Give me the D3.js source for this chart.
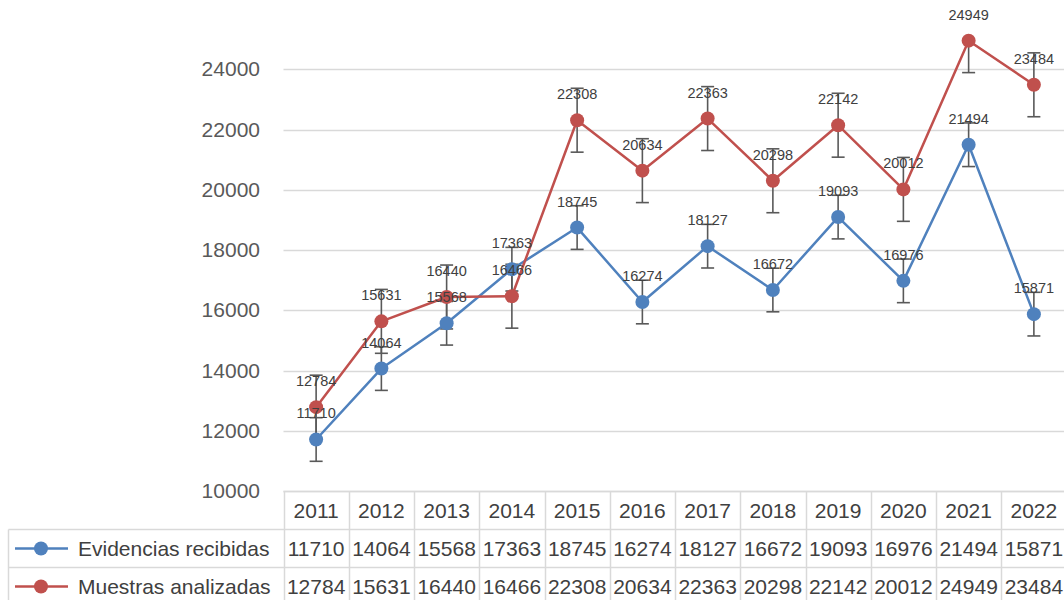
<!DOCTYPE html>
<html>
<head>
<meta charset="utf-8">
<script src="https://cdn.jsdelivr.net/npm/d3@7"></script>
<style>
  body { margin: 0; background: #fff; }
  text { font-family: "Liberation Sans", Arial, sans-serif; }
</style>
</head>
<body>
<div id="chart"></div>
<script>
// data
var years = ["2011", "2012", "2013", "2014", "2015", "2016", "2017", "2018", "2019", "2020", "2021", "2022"];
var evidencias = [11710, 14064, 15568, 17363, 18745, 16274, 18127, 16672, 19093, 16976, 21494, 15871];
var muestras = [12784, 15631, 16440, 16466, 22308, 20634, 22363, 20298, 22142, 20012, 24949, 23484];
var yTicks = [10000, 12000, 14000, 16000, 18000, 20000, 22000, 24000];

var series = [
    {name: "Evidencias recibidas", values: evidencias, color: "#4f81bd"},
    {name: "Muestras analizadas", values: muestras, color: "#c0504d"}
];

var width = 1064, height = 600;
var yMin = 10000, yMax = 26000;

var svg = d3.select("#chart").append("svg")
    .attr("width", width)
    .attr("height", height);

var x = d3.scaleBand()
    .domain(years)
    .range([283.5, 283.5 + 65.25 * years.length]);

var y = d3.scaleLinear()
    .domain([yMin, yMax])
    .range([491, 9]);

// gridlines
svg.append("g")
    .selectAll("line")
    .data(yTicks)
    .join("line")
    .attr("x1", 283.5)
    .attr("x2", width)
    .attr("y1", d => Math.round(y(d)) + 0.5)
    .attr("y2", d => Math.round(y(d)) + 0.5)
    .attr("stroke", "#d9d9d9")
    .attr("stroke-width", 1.5);

// y tick labels
svg.append("g")
    .selectAll("text")
    .data(yTicks)
    .join("text")
    .attr("x", 260)
    .attr("y", d => y(d) + 7)
    .attr("text-anchor", "end")
    .attr("fill", "#595959")
    .style("font-size", "21px")
    .text(d => d);

// standard error of each series (same bar for every point, like Excel)
series.forEach(function(s) {
    s.err = d3.deviation(s.values) / Math.sqrt(s.values.length);
});

var cx = d => x(d) + x.bandwidth() / 2;

// error bars
series.forEach(function(s) {
    var g = svg.append("g")
        .attr("stroke", "#595959")
        .attr("stroke-width", 1.6);
    s.values.forEach(function(v, i) {
        var px = cx(years[i]);
        var hi = v + s.err, lo = v - s.err;
        var segs = [];
        if (hi <= yMax) segs.push(hi);
        if (lo >= yMin) segs.push(lo);
        segs.forEach(function(e) {
            g.append("line")
                .attr("x1", px).attr("x2", px)
                .attr("y1", y(v)).attr("y2", y(e));
            g.append("line")
                .attr("x1", px - 6.5).attr("x2", px + 6.5)
                .attr("y1", y(e)).attr("y2", y(e));
        });
    });
});

var line = d3.line()
    .x((d, i) => cx(years[i]))
    .y(d => y(d));

// lines and markers
series.forEach(function(s) {
    svg.append("path")
        .datum(s.values)
        .attr("d", line)
        .attr("fill", "none")
        .attr("stroke", s.color)
        .attr("stroke-width", 2.5)
        .attr("stroke-linejoin", "round");

    svg.append("g")
        .selectAll("circle")
        .data(s.values)
        .join("circle")
        .attr("cx", (d, i) => cx(years[i]))
        .attr("cy", d => y(d))
        .attr("r", 7)
        .attr("fill", s.color);
});

// data labels
series.forEach(function(s) {
    svg.append("g")
        .selectAll("text")
        .data(s.values)
        .join("text")
        .attr("x", (d, i) => cx(years[i]))
        .attr("y", d => y(d) - 21)
        .attr("text-anchor", "middle")
        .attr("fill", "#404040")
        .style("font-size", "14.5px")
        .text(d => d);
});

// data table
var rowTop = [491.5, 529.5, 567.5, 605.5];
var tableLeft = 8.5;
var grid = svg.append("g")
    .attr("stroke", "#d9d9d9")
    .attr("stroke-width", 1.5);

// header top border + row borders
grid.append("line")
    .attr("x1", x.range()[0]).attr("x2", width)
    .attr("y1", rowTop[0]).attr("y2", rowTop[0]);
[1, 2, 3].forEach(function(r) {
    grid.append("line")
        .attr("x1", tableLeft).attr("x2", width)
        .attr("y1", rowTop[r]).attr("y2", rowTop[r]);
});
// left border of legend rows
grid.append("line")
    .attr("x1", tableLeft).attr("x2", tableLeft)
    .attr("y1", rowTop[1]).attr("y2", rowTop[3]);
// column borders
years.forEach(function(yr) {
    grid.append("line")
        .attr("x1", Math.round(x(yr)) + 0.5).attr("x2", Math.round(x(yr)) + 0.5)
        .attr("y1", rowTop[0]).attr("y2", rowTop[3]);
});

// header row: years
svg.append("g")
    .selectAll("text")
    .data(years)
    .join("text")
    .attr("x", d => cx(d))
    .attr("y", 518)
    .attr("text-anchor", "middle")
    .attr("fill", "#404040")
    .style("font-size", "21px")
    .text(d => d);

var rowBase = [556, 594];
series.forEach(function(s, si) {
    var rowMid = (rowTop[si + 1] + rowTop[si + 2]) / 2;
    // legend key
    svg.append("line")
        .attr("x1", 15).attr("x2", 68)
        .attr("y1", rowMid).attr("y2", rowMid)
        .attr("stroke", s.color)
        .attr("stroke-width", 2.5);
    svg.append("circle")
        .attr("cx", 41).attr("cy", rowMid)
        .attr("r", 7)
        .attr("fill", s.color);
    svg.append("text")
        .attr("x", 78)
        .attr("y", rowBase[si])
        .attr("fill", "#404040")
        .style("font-size", "21px")
        .text(s.name);

    svg.append("g")
        .selectAll("text")
        .data(s.values)
        .join("text")
        .attr("x", (d, i) => cx(years[i]))
        .attr("y", rowBase[si])
        .attr("text-anchor", "middle")
        .attr("fill", "#404040")
        .style("font-size", "21px")
        .text(d => d);
});
</script>
</body>
</html>
